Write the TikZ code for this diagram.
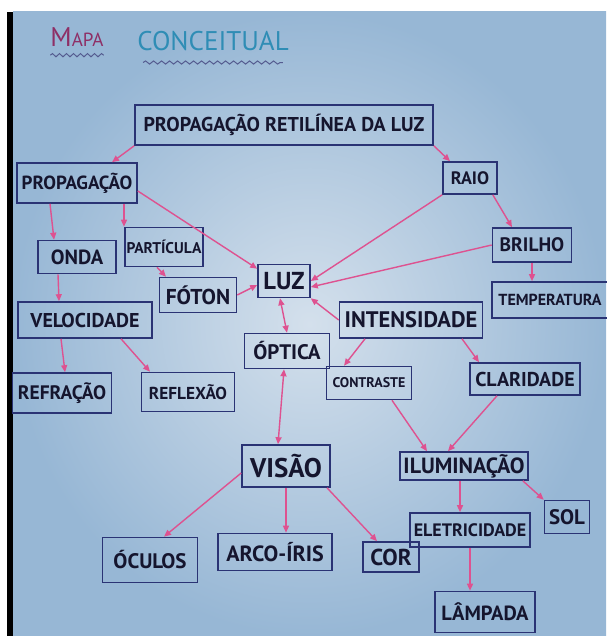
\documentclass[tikz,border=0pt]{standalone}
\usepackage{fontspec}
\setmainfont{PT Sans}
\usetikzlibrary{arrows.meta, decorations.pathmorphing}
\definecolor{paper-light}{HTML}{D4E0EC}
\definecolor{paper-dark}{HTML}{97B7D5}
\definecolor{ink-blue}{HTML}{2A3374}
\definecolor{ink-text}{HTML}{15152E}
\definecolor{marker-pink}{HTML}{DE5290}
\definecolor{title-red}{HTML}{8E2F66}
\definecolor{title-teal}{HTML}{2F8DB5}
\newcommand{\fsz}[1]{\fontsize{#1}{#1}\selectfont}
\newcommand{\csz}[1]{\fontsize{#1}{#1}\selectfont\bfseries}

\begin{document}
\begin{tikzpicture}[x=1pt, y=-1pt,
    concept/.style={draw=ink-blue, line width=1.6pt, text=ink-text, inner sep=0pt},
    link/.style={draw=marker-pink, line width=1.4pt, -{Triangle[length=7pt, width=6pt]}},
    twolink/.style={link, {Triangle[length=7pt, width=6pt]}-{Triangle[length=7pt, width=6pt]}}]
    % Concept map of light, drawn on a sheet of paper.
    % Coordinates: (x, y) in pt, y grows downwards, page 606 x 636
    %   paper from (13,12) to (606,636), black edge at x=7..13
    %   top concept at (284,125), LUZ at (284,281), VISAO at (286,466)
    \useasboundingbox (0,0) rectangle (606,636);
    \fill[white] (0,0) rectangle (606,636);
    \fill[black] (7,12) rectangle (13,636);
    \shade[inner color=paper-light, outer color=paper-dark] (13,12) rectangle (606,636);

    % title
    \node[text=title-red, inner sep=0pt, anchor=base] (mapa) at (77,47)
          {{\fsz{27}M}{\fsz{19}APA}};
    \node[text=title-teal, inner sep=0pt, anchor=base] (conceitual) at (213,51)
          {\fsz{27}CONCEITUAL};
    \draw[ink-blue!80, line width=1pt, decorate,
          decoration={snake, amplitude=1.6pt, segment length=7pt}]
          ([yshift=-8]mapa.south west) -- ([yshift=-8]mapa.south east);
    \draw[ink-blue!80, line width=1pt, decorate,
          decoration={snake, amplitude=1.6pt, segment length=8pt}]
          ([xshift=6, yshift=-11]conceitual.south west) -- ([xshift=-6, yshift=-11]conceitual.south east);

    % concepts
    \node[concept, minimum width=298, minimum height=40, font=\csz{20}] (prl) at (284,125)
          {PROPAGAÇÃO RETILÍNEA DA LUZ};
    \node[concept, minimum width=120, minimum height=40, font=\csz{19}] (propag) at (77,183) {PROPAGAÇÃO};
    \node[concept, minimum width=54, minimum height=32, font=\csz{18}] (raio) at (470,178) {RAIO};
    \node[concept, minimum width=78, minimum height=33, font=\csz{20.5}] (onda) at (77,257) {ONDA};
    \node[concept, minimum width=78, minimum height=39, font=\csz{15.5}] (particula) at (164,247) {PARTÍCULA};
    \node[concept, minimum width=77, minimum height=35, font=\csz{21.5}] (foton) at (198,295) {FÓTON};
    \node[concept, minimum width=52, minimum height=33, font=\csz{24.5}] (luz) at (284,281) {LUZ};
    \node[concept, minimum width=79, minimum height=34, font=\csz{19.5}] (brilho) at (532,245) {BRILHO};
    \node[concept, minimum width=116, minimum height=36, font=\csz{16}] (temperatura) at (550,300) {TEMPERATURA};
    \node[concept, minimum width=134, minimum height=36, font=\csz{20}] (velocidade) at (85,320) {VELOCIDADE};
    \node[concept, minimum width=143, minimum height=36, font=\csz{22.5}] (intensidade) at (411,320) {INTENSIDADE};
    \node[concept, minimum width=85, minimum height=35, font=\csz{21}] (optica) at (287,351) {ÓPTICA};
    \node[concept, minimum width=85, minimum height=33, font=\csz{14}] (contraste) at (369,383) {CONTRASTE};
    \node[concept, minimum width=110, minimum height=32, font=\csz{20}] (claridade) at (525,379) {CLARIDADE};
    \node[concept, minimum width=99, minimum height=40, font=\csz{19.5}] (refracao) at (62,393) {REFRAÇÃO};
    \node[concept, minimum width=93, minimum height=39, font=\csz{17.3}] (reflexao) at (188,392) {REFLEXÃO};
    \node[concept, minimum width=88, minimum height=42, font=\csz{27}] (visao) at (286,466) {VISÃO};
    \node[concept, minimum width=128, minimum height=28, font=\csz{22}] (iluminacao) at (464,466) {ILUMINAÇÃO};
    \node[concept, minimum width=45, minimum height=33, font=\csz{21}] (sol) at (567,517) {SOL};
    \node[concept, minimum width=120, minimum height=34, font=\csz{18}] (eletricidade) at (470,530) {ELETRICIDADE};
    \node[concept, minimum width=95, minimum height=45, font=\csz{21}] (oculos) at (150,560) {ÓCULOS};
    \node[concept, minimum width=114, minimum height=37, font=\csz{22}] (arcoiris) at (275,552) {ARCO-ÍRIS};
    \node[concept, minimum width=56, minimum height=30, font=\csz{23}] (cor) at (391,557) {COR};
    \node[concept, minimum width=100, minimum height=41, font=\csz{20.5}] (lampada) at (485,612) {LÂMPADA};

    % links
    \draw[link] (prl.south west) -- ([xshift=35]propag.north);
    \draw[link] (prl.south east) -- ([xshift=-20]raio.north);
    \draw[link] ([xshift=-27]propag.south) -- ([xshift=-23]onda.north);
    \draw[link] ([xshift=47]propag.south) -- ([xshift=-40]particula.north);
    \draw[link] ([yshift=-8]propag.east) -- ([yshift=-5]luz.north west);
    \draw[link] (raio.south west) -- (luz.east);
    \draw[link] ([xshift=-5]raio.south east) -- ([xshift=-20]brilho.north);
    \draw[link] (brilho.west) -- ([yshift=-6]luz.east);
    \draw[link] (brilho.south) -- (brilho.south |- temperatura.north);
    \draw[link] ([xshift=-19]onda.south) -- ([xshift=-26]velocidade.north);
    \draw[link] ([xshift=-7]particula.south) -- ([xshift=-32]foton.north);
    \draw[link] (foton.east) -- ([yshift=-4]luz.west);
    \draw[link] ([xshift=-24]velocidade.south) -- ([xshift=3]refracao.north);
    \draw[link] ([xshift=36]velocidade.south) -- ([xshift=-38]reflexao.north);
    \draw[twolink] ([xshift=-4]luz.south) -- (optica.north);
    \draw[link] (intensidade.west) -- (luz.south east);
    \draw[link] ([xshift=-46]intensidade.south) -- ([xshift=-25]contraste.north);
    \draw[link] ([xshift=51]intensidade.south) -- ([xshift=-46]claridade.north);
    \draw[twolink] ([xshift=-3]optica.south) -- ([xshift=-8]visao.north);
    \draw[link] ([xshift=23]contraste.south) -- ([xshift=-37]iluminacao.north);
    \draw[link] ([xshift=-28]claridade.south) -- ([xshift=-16]iluminacao.north);
    \draw[link] ([yshift=-7]visao.west) -- ([xshift=14]oculos.north);
    \draw[link] (visao.south) -- (visao.south |- arcoiris.north);
    \draw[link] ([xshift=41]visao.south) -- ([xshift=-14]cor.north);
    \draw[link] ([xshift=-4]iluminacao.south) -- ([xshift=-10]eletricidade.north);
    \draw[link] ([xshift=-6]iluminacao.south east) -- (sol.north west);
    \draw[link] (eletricidade.south) -- (eletricidade.south |- lampada.north);
\end{tikzpicture}
\end{document}
